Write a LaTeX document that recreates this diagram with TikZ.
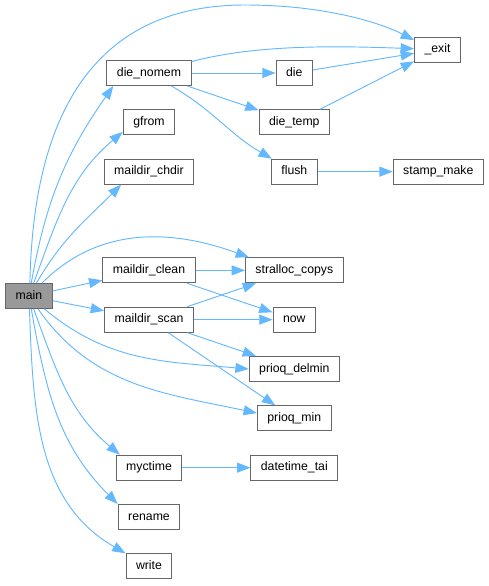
\documentclass[tikz,border=0pt]{standalone}
\usepackage{fontspec}
\setmainfont{Liberation Sans}
\usepackage{tikz}
\usetikzlibrary{arrows.meta,positioning}
\definecolor{edgeblue}{HTML}{63B8FF}
\definecolor{boxgray}{HTML}{666666}
\definecolor{maingray}{HTML}{999999}
\tikzstyle{fn}=[rectangle, draw=boxgray, fill=white, line width=0.75pt, inner xsep=7.5pt, inner ysep=0pt, minimum height=18.75pt, text height=6.8pt, text depth=2pt, font=\fontsize{9.2}{11}\selectfont]
\tikzstyle{mfn}=[fn, fill=maingray]
\tikzstyle{call}=[draw=edgeblue, line width=0.7pt]

\begin{document}
\begin{tikzpicture}[x=0.75pt, y=-0.75pt, ->, >={Triangle[length=10pt,width=7.5pt]}, every edge/.style={call}, node distance=37pt]
\useasboundingbox (0,0) rectangle (489,586);
%
  \node[mfn] (main) at (29,296) {main};
  \node[fn] (exit) at (437.5,49.5) {\_exit};
  \node[fn] (dienomem) at (149,73) {die\_nomem};
  \node[fn] (gfrom) [below of=dienomem] {gfrom};
  \node[fn] (chdir) [below of=gfrom] {maildir\_chdir};
  \node[fn, node distance=74pt] (clean) [below of=chdir] {maildir\_clean};
  \node[fn] (scan) [below of=clean] {maildir\_scan};
  \node[fn, node distance=111pt] (myctime) [below of=scan] {myctime};
  \node[fn] (rename) [below of=myctime] {rename};
  \node[fn] (write) [below of=rename] {write};
  \node[fn, node distance=109pt] (die) [right of=dienomem] {die};
  \node[fn] (dietemp) [below of=die] {die\_temp};
  \node[fn] (flush) [below of=dietemp] {flush};
  \node[fn, node distance=108pt] (stamp) [right of=flush] {stamp\_make};
  \node[fn, node distance=109pt] (copys) [right of=clean] {stralloc\_copys};
  \node[fn, node distance=109pt] (now) [right of=scan] {now};
  \node[fn] (delmin) [below of=now] {prioq\_delmin};
  \node[fn] (pmin) [below of=delmin] {prioq\_min};
  \node[fn, node distance=109pt] (datetime) [right of=myctime] {datetime\_tai};
%
  \draw[call] (main.86) .. controls (33,120) and (90,5) .. (245,5)
    .. controls (330,5) and (385,25) .. ([yshift=7pt]exit.west);
  \path[]
  (main) edge[out=80,in=235] (dienomem.200)
  (main) edge[out=70,in=220] (gfrom.200)
  (main) edge[out=60,in=225] (chdir.205)
  (main) edge[out=45,in=160] (copys.164)
  (main) edge (clean)
  (main) edge (scan)
  (main) edge[out=-40,in=175] (delmin.west)
  (main) edge[out=-55,in=168] (pmin.172)
  (main) edge[out=-70,in=140] (myctime.156)
  (main) edge[out=-80,in=135] (rename.north west)
  (main) edge[out=-88,in=150] (write.north west)
  (dienomem) edge[out=15,in=178,looseness=0.8] (exit)
  (dienomem) edge (die)
  (dienomem) edge (dietemp)
  (dienomem) edge[out=-30,in=150] (flush)
  (die) edge (exit)
  (dietemp) edge (exit)
  (flush) edge (stamp)
  (clean) edge (copys)
  (clean) edge (now)
  (scan) edge (copys)
  (scan) edge (now)
  (scan) edge (delmin)
  (scan) edge (pmin)
  (myctime) edge (datetime);
%
\end{tikzpicture}
\end{document}
